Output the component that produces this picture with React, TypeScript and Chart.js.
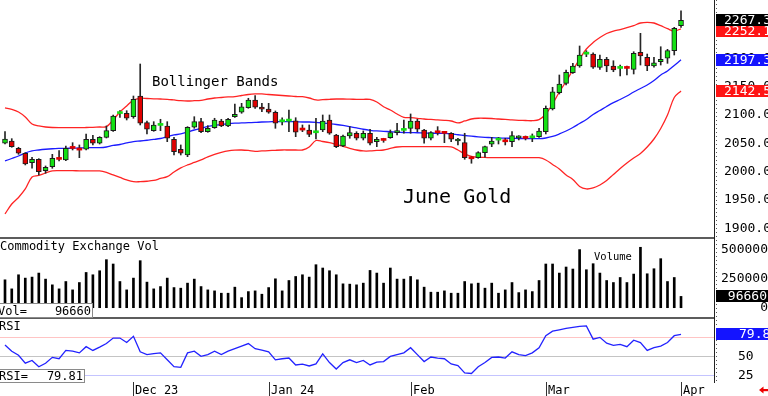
import React, { useEffect, useRef } from 'react';
import { Chart, registerables } from 'chart.js';

Chart.register(...registerables);

const FONT = "'DejaVu Sans Mono', monospace";

// ---- Daily OHLC, June Gold (Nov 3 2023 .. Apr 1 2024) ----
const opens = [
  2050.1, 2054.1, 2041.2, 2032.4, 2015.8, 2021.8, 2001.7, 2008.8, 2022.2, 2020.6,
  2041.5, 2038.5, 2039.5, 2057.1, 2050.1, 2060.6, 2072.3, 2102.5, 2103.0, 2097.0,
  2133.5, 2086.4, 2072.3, 2081.6, 2080.6, 2057.1, 2039.5, 2029.4, 2078.3, 2088.2,
  2070.5, 2077.6, 2089.4, 2080.6, 2097.0, 2104.8, 2112.9, 2126.5, 2114.1, 2110.6,
  2104.8, 2088.0, 2089.2, 2089.9, 2073.8, 2073.5, 2068.6, 2073.5, 2091.2, 2064.7,
  2045.3, 2062.9, 2067.7, 2058.9, 2067.7, 2052.9, 2055.6, 2059.9, 2068.8, 2072.8,
  2076.5, 2089.4, 2073.5, 2058.9, 2069.0, 2068.0, 2067.7, 2054.0, 2051.1, 2023.1,
  2024.6, 2033.5, 2048.3, 2055.6, 2053.1, 2052.9, 2059.5, 2059.1, 2059.7, 2061.7,
  2070.5, 2110.6, 2139.4, 2155.9, 2174.6, 2186.5, 2207.4, 2207.6, 2183.8, 2198.3,
  2186.5, 2182.2, 2182.6, 2180.6, 2210.6, 2201.8, 2186.5, 2194.1, 2200.1, 2213.5,
  2257.6,
];
const highs = [
  2070.5, 2058.2, 2043.0, 2033.5, 2025.4, 2022.9, 2010.0, 2030.6, 2037.0, 2045.3,
  2051.1, 2047.1, 2066.5, 2064.2, 2061.7, 2080.6, 2100.0, 2107.6, 2107.6, 2133.5,
  2190.0, 2089.4, 2088.2, 2092.4, 2088.2, 2060.6, 2047.1, 2079.4, 2097.0, 2094.2,
  2081.1, 2094.2, 2092.4, 2094.2, 2119.4, 2120.6, 2129.5, 2134.1, 2120.6, 2120.6,
  2107.1, 2095.2, 2108.8, 2095.2, 2082.4, 2082.4, 2094.2, 2100.0, 2100.0, 2065.9,
  2064.7, 2079.4, 2070.5, 2071.8, 2074.8, 2060.6, 2058.9, 2073.5, 2085.4, 2091.2,
  2101.8, 2092.4, 2074.8, 2070.5, 2079.4, 2070.5, 2068.8, 2058.9, 2067.7, 2026.4,
  2035.2, 2045.3, 2060.6, 2060.6, 2058.9, 2070.5, 2063.5, 2062.9, 2066.5, 2076.5,
  2115.9, 2148.9, 2170.6, 2179.4, 2191.2, 2221.8, 2213.5, 2209.9, 2205.9, 2201.8,
  2195.8, 2188.2, 2186.5, 2211.7, 2244.2, 2207.6, 2201.8, 2220.5, 2215.9, 2254.8,
  2284.1,
];
const lows = [
  2048.8, 2043.0, 2030.6, 2011.8, 2005.9, 1994.1, 1997.1, 2005.9, 2018.8, 2019.4,
  2038.2, 2024.6, 2038.2, 2047.1, 2048.8, 2059.4, 2071.2, 2095.9, 2091.2, 2094.2,
  2082.4, 2066.5, 2071.2, 2072.3, 2052.9, 2029.4, 2029.4, 2026.4, 2076.5, 2068.8,
  2069.5, 2076.5, 2079.4, 2079.4, 2095.9, 2103.0, 2111.8, 2111.8, 2105.8, 2103.0,
  2076.5, 2082.4, 2070.5, 2061.7, 2070.5, 2061.7, 2057.6, 2070.5, 2065.9, 2042.3,
  2044.1, 2058.9, 2055.9, 2055.9, 2047.1, 2044.1, 2051.8, 2058.9, 2064.7, 2067.7,
  2067.7, 2070.5, 2050.1, 2055.9, 2064.7, 2051.1, 2052.9, 2047.1, 2021.8, 2014.8,
  2023.6, 2025.4, 2044.1, 2048.8, 2047.1, 2044.1, 2055.9, 2055.9, 2052.9, 2060.6,
  2066.5, 2108.8, 2137.1, 2152.9, 2173.6, 2184.2, 2202.9, 2182.4, 2180.6, 2176.4,
  2176.4, 2168.8, 2170.6, 2172.4, 2188.2, 2178.2, 2184.2, 2188.2, 2191.2, 2205.9,
  2254.8,
];
const closes = [
  2057.6, 2044.1, 2032.4, 2013.5, 2021.8, 1999.9, 2007.7, 2023.6, 2021.6, 2041.2,
  2041.0, 2038.0, 2057.1, 2050.1, 2060.6, 2072.3, 2098.2, 2103.0, 2094.2, 2127.7,
  2085.4, 2074.8, 2082.4, 2082.0, 2058.9, 2035.2, 2032.4, 2078.3, 2088.2, 2070.5,
  2076.5, 2091.2, 2080.6, 2092.4, 2101.2, 2114.6, 2126.5, 2113.6, 2110.1, 2104.8,
  2085.4, 2088.4, 2089.6, 2069.5, 2073.4, 2065.9, 2069.0, 2089.4, 2067.7, 2044.1,
  2062.9, 2068.8, 2058.9, 2067.7, 2050.1, 2057.1, 2055.1, 2068.8, 2071.8, 2073.2,
  2089.4, 2074.8, 2058.9, 2068.8, 2068.6, 2067.6, 2057.1, 2055.0, 2024.6, 2022.7,
  2033.5, 2044.1, 2054.1, 2056.1, 2052.7, 2063.5, 2060.5, 2058.7, 2060.1, 2071.8,
  2111.8, 2141.1, 2154.7, 2175.4, 2186.5, 2205.9, 2207.8, 2184.2, 2198.3, 2186.5,
  2179.4, 2182.6, 2182.2, 2208.9, 2204.1, 2186.5, 2192.3, 2198.3, 2213.5, 2253.0,
  2267.3,
];

// ---- Bollinger bands ----
const bbUpper = [
  2112.4, 2109.7, 2105.3, 2096.5, 2084.1, 2080.6, 2078.8, 2077.9, 2077.6, 2077.6,
  2077.6, 2077.6, 2077.9, 2078.3, 2078.8, 2079.4, 2091.2, 2105.3, 2115.9, 2126.5,
  2129.5, 2129.1, 2128.6, 2128.2, 2127.7, 2126.5, 2125.2, 2124.7, 2125.2, 2125.9,
  2128.2, 2130.0, 2130.9, 2131.8, 2132.6, 2134.4, 2136.2, 2137.1, 2137.1, 2136.2,
  2135.3, 2134.4, 2133.5, 2132.6, 2132.3, 2130.0, 2126.5, 2127.0, 2127.7, 2128.2,
  2128.2, 2127.9, 2127.7, 2127.7, 2127.4, 2122.9, 2114.6, 2108.8, 2101.8, 2095.9,
  2095.2, 2094.2, 2092.9, 2092.1, 2091.2, 2090.6, 2089.4, 2085.9, 2089.4, 2092.9,
  2094.2, 2094.2, 2093.8, 2092.9, 2092.1, 2091.2, 2090.6, 2090.3, 2089.9, 2091.7,
  2101.8, 2119.4, 2140.6, 2159.1, 2179.4, 2198.8, 2216.5, 2227.9, 2236.8, 2243.8,
  2248.2, 2250.9, 2254.1, 2257.9, 2262.4, 2263.6, 2262.4, 2257.6, 2252.3, 2248.2,
  2252.1,
];
const bbMid = [
  2018.8, 2023.2, 2027.6, 2032.9, 2036.5, 2038.2, 2039.5, 2040.4, 2040.9, 2041.2,
  2041.4, 2041.8, 2042.1, 2042.3, 2042.3, 2043.5, 2046.2, 2047.9, 2050.6, 2052.9,
  2054.1, 2055.4, 2056.8, 2058.5, 2061.7, 2064.7, 2066.5, 2070.0, 2073.5, 2076.5,
  2079.7, 2081.8, 2082.9, 2084.5, 2085.5, 2085.9, 2086.4, 2086.8, 2087.6, 2088.0,
  2088.2, 2088.2, 2088.2, 2088.0, 2087.6, 2087.6, 2087.1, 2085.9, 2084.6, 2083.2,
  2081.5, 2079.4, 2077.1, 2074.8, 2073.0, 2071.8, 2071.2, 2070.4, 2069.6, 2069.1,
  2068.8, 2068.6, 2068.2, 2067.9, 2067.7, 2067.4, 2066.5, 2065.1, 2063.8, 2062.6,
  2061.5, 2060.6, 2059.9, 2059.4, 2059.1, 2058.7, 2058.5, 2058.4, 2058.2, 2058.2,
  2059.4, 2062.1, 2066.5, 2071.8, 2077.9, 2085.0, 2092.1, 2100.9, 2107.9, 2115.0,
  2121.7, 2127.4, 2133.5, 2140.6, 2146.8, 2152.9, 2160.9, 2170.6, 2177.6, 2187.4,
  2197.3,
];
const bbLower = [
  1925.3, 1942.9, 1954.4, 1969.4, 1990.6, 1993.2, 1997.6, 2001.2, 2001.7, 2001.7,
  2001.7, 2001.5, 2001.5, 2001.4, 2001.2, 1998.5, 1994.1, 1989.7, 1985.3, 1982.3,
  1982.3, 1983.0, 1984.4, 1987.9, 1991.1, 1999.4, 2006.5, 2011.8, 2016.2, 2020.6,
  2025.9, 2030.3, 2033.8, 2036.5, 2037.9, 2038.2, 2037.4, 2035.9, 2036.5, 2037.0,
  2037.7, 2038.2, 2038.2, 2038.2, 2038.2, 2043.5, 2055.0, 2053.2, 2051.1, 2047.9,
  2044.4, 2041.2, 2038.2, 2036.5, 2036.5, 2037.4, 2038.2, 2040.9, 2043.5, 2044.1,
  2044.1, 2044.1, 2044.1, 2044.1, 2044.1, 2044.1, 2043.5, 2038.2, 2031.2, 2026.8,
  2025.4, 2025.0, 2024.6, 2024.6, 2024.6, 2024.6, 2024.6, 2024.6, 2024.6, 2024.6,
  2020.6, 2012.6, 2004.7, 1994.1, 1986.2, 1973.8, 1969.4, 1971.2, 1976.5, 1984.4,
  1995.0, 2005.6, 2015.3, 2024.1, 2032.1, 2043.5, 2057.6, 2076.2, 2100.0, 2130.9,
  2142.5,
];

// ---- Volume ----
const volumes = [
  238800, 161200, 281900, 253400, 262100, 296500, 244800, 195700, 161200, 224100,
  152600, 215500, 301700, 281900, 316400, 411200, 374100, 224100, 152600, 253400,
  402600, 219000, 161200, 181000, 253400, 172400, 167200, 210300, 244800, 181000,
  152600, 144000, 124100, 124100, 175900, 86200, 137900, 144000, 115500, 172400,
  247400, 144000, 232800, 267300, 281900, 262100, 368100, 339700, 316400, 281900,
  204300, 201700, 195700, 210300, 319000, 296500, 210300, 339700, 244800, 244800,
  267300, 238800, 175900, 132800, 132800, 144000, 124100, 124100, 224100, 204300,
  210300, 167200, 210300, 124100, 152600, 215500, 129300, 152600, 137900, 232800,
  374100, 374100, 296500, 348300, 331000, 497400, 325000, 376700, 296500, 232800,
  215500, 258600, 215500, 287900, 517300, 290500, 333600, 419800, 224100, 258600,
  96660,
];

// ---- RSI ----
const rsiValues = [
  65.8, 57.6, 52.2, 41.8, 45.4, 37.2, 41.8, 49.5, 47.7, 58.6,
  57.6, 55.4, 63.6, 58.6, 63.0, 67.7, 74.9, 74.9, 69.0, 77.2,
  56.8, 53.1, 54.5, 55.4, 46.3, 37.2, 36.4, 55.4, 57.6, 50.8,
  53.1, 57.6, 53.1, 57.6, 60.9, 64.4, 67.7, 60.9, 59.0, 56.8,
  46.3, 47.7, 48.6, 39.5, 40.5, 38.2, 40.9, 54.1, 42.7, 34.1,
  42.7, 46.3, 42.7, 45.4, 39.5, 43.2, 44.0, 50.8, 53.1, 55.4,
  62.2, 53.1, 44.0, 50.0, 48.6, 47.7, 40.9, 38.6, 29.1, 28.3,
  37.2, 42.7, 49.5, 50.0, 48.6, 56.8, 53.1, 51.8, 55.4, 62.2,
  78.0, 84.0, 85.7, 87.5, 88.9, 90.2, 90.8, 73.5, 75.8, 68.1,
  65.4, 66.7, 63.6, 72.1, 69.0, 58.6, 62.2, 64.4, 69.0, 78.0,
  79.81,
];

// ---- Axis ticks / labels ----
const priceTicks = [1900, 1950, 2000, 2050, 2100, 2150, 2200, 2250];
const volumeTicks = [0, 250000, 500000];
const rsiTicks = [25, 50, 75];
const rsiLabelled = [25, 50];
const monthTickIndex = [19, 39, 60, 80, 100];
const monthLabels = ['Dec 23', 'Jan 24', 'Feb', 'Mar', 'Apr'];

const GREEN = '#14e014';
const RED = '#e00000';
const BAND_RED = '#ff2424';
const BAND_BLUE = '#1c1cff';

export default function App() {
  const ref = useRef<HTMLCanvasElement>(null);

  useEffect(() => {
    const canvas = ref.current;
    if (!canvas) return;
    const idx = closes.map((_, i) => i);
    const isUp = (i: number) => closes[i] >= opens[i];
    const isDoji = (i: number) => Math.abs(closes[i] - opens[i]) < 0.9;
    const bodyColor = (i: number) => (isUp(i) ? GREEN : RED);

    const fixAxis = (s: any) => {
      s.width = 54;
      s.paddingTop = 0;
      s.paddingBottom = 0;
      s.paddingLeft = 0;
      s.paddingRight = 0;
    };

    const overlay = {
      id: 'overlay',
      afterDraw(chart: any) {
        const ctx = chart.ctx as CanvasRenderingContext2D;
        const { x, y, yv, yr } = chart.scales;
        const area = chart.chartArea;
        const axisX = y.left;
        ctx.save();

        // minor-tick texture next to the axis
        ctx.strokeStyle = '#555';
        ctx.lineWidth = 1;
        ctx.setLineDash([1, 3]);
        ctx.beginPath();
        ctx.moveTo(axisX + 2.5, 0);
        ctx.lineTo(axisX + 2.5, area.bottom);
        ctx.stroke();
        ctx.setLineDash([]);

        // panel separators
        ctx.fillStyle = '#5c5c5c';
        ctx.fillRect(0, yv.top, axisX, 2);
        ctx.fillRect(0, yr.top, axisX, 2);

        // month ticks + labels
        ctx.strokeStyle = '#333';
        ctx.fillStyle = '#000';
        ctx.font = `12px ${FONT}`;
        ctx.textAlign = 'left';
        ctx.textBaseline = 'alphabetic';
        monthTickIndex.forEach((m, k) => {
          const px = Math.round(x.getPixelForValue(m)) + 0.5;
          ctx.beginPath();
          ctx.moveTo(px, area.bottom);
          ctx.lineTo(px, 396);
          ctx.stroke();
          ctx.fillText(monthLabels[k], px + 1.5, 394);
        });

        // panel captions
        ctx.fillStyle = '#000';
        ctx.font = `14px ${FONT}`;
        ctx.fillText('Bollinger Bands', 152, 86);
        ctx.font = `20px ${FONT}`;
        ctx.fillText('June Gold', 403, 203);
        ctx.font = `12px ${FONT}`;
        ctx.fillText('Commodity Exchange Vol', 0, 250);
        ctx.fillText('RSI', -1, 330);
        ctx.font = `10.5px ${FONT}`;
        ctx.fillText('Volume', 594, 260);

        // left value boxes
        const lastVol = volumes[volumes.length - 1];
        const lastRsi = rsiValues[rsiValues.length - 1];
        ctx.fillStyle = '#fff';
        ctx.strokeStyle = '#8a8a8a';
        ctx.fillRect(0, 303, 93, 14);
        ctx.strokeRect(-0.5, 303.5, 93, 14);
        ctx.fillRect(0, 369, 85, 13);
        ctx.strokeRect(-0.5, 369.5, 85, 13);
        ctx.fillStyle = '#000';
        ctx.font = `12px ${FONT}`;
        ctx.textAlign = 'left';
        ctx.fillText('Vol=', -2, 315);
        ctx.fillText('RSI=', -1, 380);
        ctx.textAlign = 'right';
        ctx.fillText(String(lastVol), 91, 315);
        ctx.fillText(lastRsi.toFixed(2), 83, 380);

        // right axis value boxes
        const box = (py: number, bg: string, text: string, tx: number, align: CanvasTextAlign) => {
          ctx.fillStyle = bg;
          ctx.fillRect(axisX + 2, Math.round(py) - 6, 768 - axisX - 2, 12);
          ctx.fillStyle = '#fff';
          ctx.font = `13px ${FONT}`;
          ctx.textAlign = align;
          ctx.textBaseline = 'middle';
          ctx.fillText(text, tx, Math.round(py) + 0.5);
        };
        const n = closes.length - 1;
        box(y.getPixelForValue(bbLower[n]), '#ff1414', bbLower[n].toFixed(1), axisX + 10, 'left');
        box(y.getPixelForValue(bbMid[n]), '#1414ff', bbMid[n].toFixed(1), axisX + 10, 'left');
        box(y.getPixelForValue(bbUpper[n]) + 2, '#ff1414', bbUpper[n].toFixed(1), axisX + 10, 'left');
        box(y.getPixelForValue(closes[n]), '#000', closes[n].toFixed(1), axisX + 10, 'left');
        box(yv.getPixelForValue(lastVol), '#000', String(lastVol), 767, 'right');
        box(yr.getPixelForValue(lastRsi), '#1414ff', lastRsi.toFixed(2), axisX + 25, 'left');

        // red arrow bottom right
        ctx.fillStyle = '#ee0000';
        ctx.beginPath();
        ctx.moveTo(759, 390);
        ctx.lineTo(763.5, 386.5);
        ctx.lineTo(763.5, 393.5);
        ctx.closePath();
        ctx.fill();
        ctx.fillRect(763, 389, 5, 2.2);

        ctx.restore();
      },
    };

    const tickFont = { family: FONT, size: 13 };

    const chart = new Chart(canvas, {
      type: 'bar',
      data: {
        datasets: [
          {
            type: 'bar',
            label: 'body',
            data: idx.map((i) => ({ x: i, y: [opens[i], closes[i]] })) as any,
            xAxisID: 'x',
            yAxisID: 'y',
            grouped: false,
            barThickness: 5,
            minBarLength: 2,
            borderSkipped: false,
            backgroundColor: (c: any) => bodyColor(c.dataIndex),
            borderColor: (c: any) => (isDoji(c.dataIndex) ? bodyColor(c.dataIndex) : '#1c1c1c'),
            borderWidth: (c: any) => (isDoji(c.dataIndex) ? 0 : 1),
          } as any,
          {
            type: 'bar',
            label: 'wick',
            data: idx.map((i) => ({ x: i, y: [lows[i], highs[i]] })) as any,
            xAxisID: 'x',
            yAxisID: 'y',
            grouped: false,
            barThickness: 1,
            backgroundColor: '#262626',
            borderWidth: 0,
          } as any,
          {
            type: 'line',
            label: 'upper',
            data: idx.map((i) => ({ x: i, y: bbUpper[i] })),
            xAxisID: 'x',
            yAxisID: 'y',
            borderColor: BAND_RED,
            borderWidth: 1.3,
            pointRadius: 0,
            tension: 0.35,
            fill: false,
          } as any,
          {
            type: 'line',
            label: 'mid',
            data: idx.map((i) => ({ x: i, y: bbMid[i] })),
            xAxisID: 'x',
            yAxisID: 'y',
            borderColor: BAND_BLUE,
            borderWidth: 1.3,
            pointRadius: 0,
            tension: 0.35,
            fill: false,
          } as any,
          {
            type: 'line',
            label: 'lower',
            data: idx.map((i) => ({ x: i, y: bbLower[i] })),
            xAxisID: 'x',
            yAxisID: 'y',
            borderColor: BAND_RED,
            borderWidth: 1.3,
            pointRadius: 0,
            tension: 0.35,
            fill: false,
          } as any,
          {
            type: 'bar',
            label: 'volume',
            data: idx.map((i) => ({ x: i, y: volumes[i] })),
            xAxisID: 'x',
            yAxisID: 'yv',
            grouped: false,
            barThickness: 2,
            backgroundColor: '#000',
            borderWidth: 0,
          } as any,
          {
            type: 'line',
            label: 'rsi',
            data: idx.map((i) => ({ x: i, y: rsiValues[i] })),
            xAxisID: 'x',
            yAxisID: 'yr',
            borderColor: '#2222ff',
            borderWidth: 1.3,
            pointRadius: 0,
            tension: 0,
            fill: false,
          } as any,
        ],
      },
      options: {
        responsive: false,
        animation: false,
        events: [],
        layout: { padding: { left: 0, right: 0, top: 0, bottom: 14 }, autoPadding: false },
        plugins: { legend: { display: false }, tooltip: { enabled: false } },
        scales: {
          x: {
            type: 'linear',
            min: -0.74,
            max: 104.88,
            offset: false,
            bounds: 'ticks',
            grid: { offset: false },
            display: false,
          },
          y: {
            type: 'linear',
            position: 'right',
            stack: 'panels',
            stackWeight: 237,
            min: 1884.6,
            max: 2303,
            afterBuildTicks: (s: any) => { s.ticks = priceTicks.map((v) => ({ value: v })); },
            afterFit: fixAxis,
            grid: { display: false, drawTicks: false },
            border: { display: true, color: '#222', width: 1 },
            ticks: {
              autoSkip: false,
              padding: 10,
              crossAlign: 'near',
              color: '#000',
              font: tickFont,
              callback: (v: any) => Number(v).toFixed(1),
            },
          },
          yv: {
            type: 'linear',
            position: 'right',
            stack: 'panels',
            stackWeight: 80,
            min: -79600,
            max: 605300,
            afterBuildTicks: (s: any) => { s.ticks = volumeTicks.map((v) => ({ value: v })); },
            afterFit: fixAxis,
            grid: { display: false, drawTicks: false },
            border: { display: true, color: '#222', width: 1 },
            ticks: {
              autoSkip: false,
              padding: 7,
              crossAlign: 'far',
              color: '#000',
              font: tickFont,
              callback: (v: any) => String(v),
            },
          },
          yr: {
            type: 'linear',
            position: 'right',
            stack: 'panels',
            stackWeight: 65,
            min: 17.1,
            max: 102.6,
            afterBuildTicks: (s: any) => { s.ticks = rsiTicks.map((v) => ({ value: v })); },
            afterFit: fixAxis,
            grid: {
              display: true,
              drawOnChartArea: true,
              drawTicks: false,
              lineWidth: 1,
              color: (c: any) => {
                const v = c.tick ? c.tick.value : 0;
                if (v === 75) return '#ffc4c4';
                if (v === 50) return '#c4c4c4';
                return '#c4c4ff';
              },
            },
            border: { display: true, color: '#222', width: 1 },
            ticks: {
              autoSkip: false,
              padding: 24,
              crossAlign: 'near',
              color: '#000',
              font: tickFont,
              callback: (v: any) => (rsiLabelled.includes(Number(v)) ? String(v) : ''),
            },
          },
        } as any,
      },
      plugins: [overlay],
    });

    return () => chart.destroy();
  }, []);

  return (
    <div style={{ position: 'fixed', left: 0, top: 0, width: 768, height: 396, background: '#fff' }}>
      <canvas ref={ref} width={768} height={396} style={{ display: 'block', width: 768, height: 396 }} />
    </div>
  );
}
